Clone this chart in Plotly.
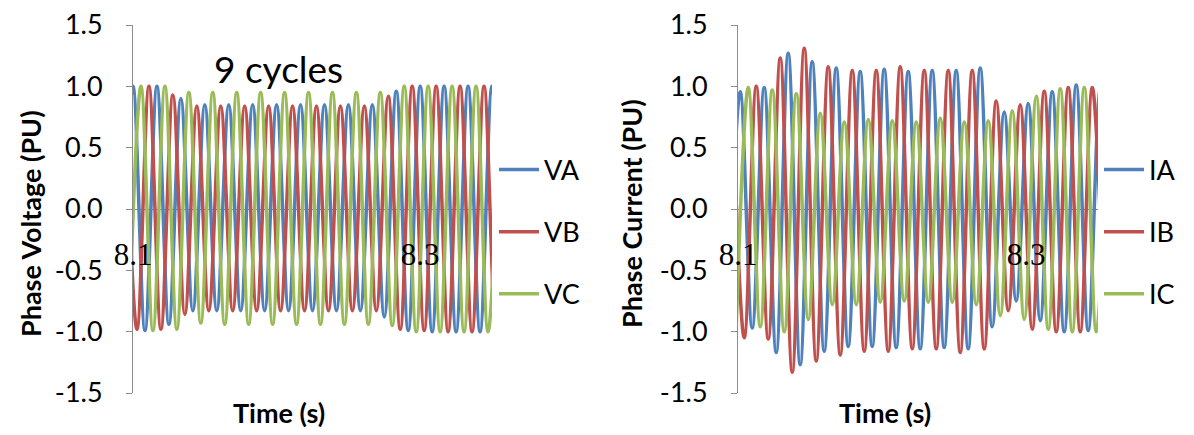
import plotly.graph_objects as go

# ---------------- data ----------------
# Successive extrema (peak / trough) of each 60 Hz waveform, one every half cycle.
HALF_CYCLE = 1 / 120  # s between successive extrema

# Phase voltages (PU)
va_t0 = 8.09167
va_ext = [-1.0, 1.0, -0.99, 1.0, -0.94, 0.90, -0.83, 0.85, -0.83, 0.85, -0.83, 0.85,
          -0.83, 0.85, -0.83, 0.85, -0.83, 0.85, -0.83, 0.85, -0.83, 0.85, -0.88, 0.96,
          -0.99, 1.0, -1.0, 1.0, -1.0, 1.0, -1.0, 1.0, -1.0]
vb_t0 = 8.09444
vb_ext = [1.0, -0.98, 1.0, -0.98, 0.93, -0.86, 0.84, -0.83, 0.84, -0.83, 0.84, -0.83,
          0.84, -0.83, 0.84, -0.83, 0.84, -0.83, 0.84, -0.83, 0.84, -0.83, 0.92, -0.98,
          1.0, -0.99, 1.0, -1.0, 1.0, -1.0, 1.0, -1.0, 1.0]
vc_t0 = 8.09722
vc_ext = [-1.0, 1.0, -0.99, 1.0, -0.98, 0.95, -0.93, 0.95, -0.94, 0.95, -0.94, 0.95,
          -0.94, 0.95, -0.94, 0.95, -0.94, 0.95, -0.94, 0.95, -0.94, 0.95, -0.95, 1.0,
          -1.0, 1.0, -1.0, 1.0, -1.0, 1.0, -1.0, 1.0]

# Phase currents (PU)
ia_t0 = 8.0932
ia_ext = [-0.97, 0.955, -0.97, 0.99, -1.17, 1.27, -1.27, 1.20, -1.16, 1.15, -1.12, 1.12,
          -1.12, 1.14, -1.13, 1.12, -1.14, 1.13, -1.13, 1.13, -1.14, 1.15, -0.96, 0.79,
          -0.75, 0.86, -0.91, 0.955, -1.0, 1.01, -0.99, 0.97, -0.98]
ib_t0 = 8.0960
ib_ext = [1.0, -1.05, 1.0, -1.06, 1.23, -1.33, 1.31, -1.24, 1.16, -1.19, 1.13, -1.16,
          1.13, -1.16, 1.16, -1.14, 1.13, -1.14, 1.13, -1.17, 1.13, -1.14, 0.88, -0.83,
          0.85, -0.98, 0.96, -1.0, 0.99, -1.0, 0.99, -1.0]
ic_t0 = 8.0988
ic_ext = [-0.96, 0.99, -0.96, 0.97, -1.0, 0.94, -0.90, 0.78, -0.78, 0.71, -0.78, 0.73,
          -0.76, 0.72, -0.75, 0.71, -0.76, 0.74, -0.76, 0.71, -0.78, 0.72, -0.87, 0.80,
          -0.90, 0.92, -0.98, 0.98, -1.0, 0.99, -1.0, 0.99]

x_tick_vals = [8.1, 8.3]
x_tick_text = ["8.1", "8.3"]
y_tick_vals = [-1.5, -1.0, -0.5, 0.0, 0.5, 1.0, 1.5]
y_tick_text = ["-1.5", "-1.0", "-0.5", "0.0", "0.5", "1.0", "1.5"]

# ---------------- styling ----------------
BLUE, RED, GREEN = "#4F81BD", "#C0504D", "#9BBB59"
AXIS_GREY = "#8C8C8C"
FONT = "Lato"


def times(t0, ext):
    return [t0 + k * HALF_CYCLE for k in range(len(ext))]


fig = go.Figure()

series = [
    ("VA", va_t0, va_ext, BLUE, "x", "y", "legend"),
    ("VB", vb_t0, vb_ext, RED, "x", "y", "legend"),
    ("VC", vc_t0, vc_ext, GREEN, "x", "y", "legend"),
    ("IA", ia_t0, ia_ext, BLUE, "x2", "y2", "legend2"),
    ("IB", ib_t0, ib_ext, RED, "x2", "y2", "legend2"),
    ("IC", ic_t0, ic_ext, GREEN, "x2", "y2", "legend2"),
]
for name, t0, ext, col, xa, ya, leg in series:
    fig.add_trace(go.Scatter(
        x=times(t0, ext), y=ext, name=name, mode="lines",
        line=dict(color=col, width=3.5, shape="spline", smoothing=1.0),
        xaxis=xa, yaxis=ya, legend=leg, legendgroup=name,
    ))

W, H = 1194, 435
LEFT_X = (133 / W, 492 / W)
RIGHT_X = (738 / W, 1098 / W)
Y_DOM = ((H - 393) / H, (H - 25) / H)
XAX_POS = (H - 233) / H


def xaxis_cfg(dom):
    return dict(domain=list(dom), range=[8.1, 8.35], anchor="free", position=XAX_POS,
                showline=False, showgrid=False, zeroline=False, ticks="",
                tickvals=x_tick_vals, ticktext=x_tick_text, automargin=False,
                tickfont=dict(family="Liberation Serif", size=31, color="black"))


def yaxis_cfg(anchor):
    return dict(domain=list(Y_DOM), range=[-1.5, 1.5], anchor=anchor, automargin=False,
                showline=True, linecolor=AXIS_GREY, linewidth=1,
                ticks="outside", ticklen=6, tickcolor=AXIS_GREY, tickwidth=1,
                showgrid=False, zeroline=True, zerolinecolor=AXIS_GREY, zerolinewidth=1,
                tickvals=y_tick_vals, ticktext=y_tick_text, ticklabelstandoff=18,
                tickfont=dict(family=FONT, size=27, color="black"))


def legend_cfg(x_px):
    return dict(x=x_px / W, y=(H - 232) / H, xanchor="left", yanchor="middle",
                bgcolor="rgba(0,0,0,0)", borderwidth=0, traceorder="grouped",
                tracegroupgap=24, itemwidth=40,
                font=dict(family=FONT, size=27, color="black"))


fig.update_layout(
    width=W, height=H, margin=dict(l=0, r=0, t=0, b=0, autoexpand=False),
    paper_bgcolor="white", plot_bgcolor="white",
    font=dict(family=FONT, size=27, color="black"),
    xaxis=xaxis_cfg(LEFT_X), yaxis=yaxis_cfg("x"),
    xaxis2=xaxis_cfg(RIGHT_X), yaxis2=yaxis_cfg("x2"),
    legend=legend_cfg(494),
    legend2=legend_cfg(1099),
    showlegend=True,
)

title_font = dict(family=FONT, size=27, color="black")
annotations = [
    dict(text="<b>Phase Voltage (PU)</b>", x=30 / W, y=(H - 224) / H, textangle=-90, font=title_font),
    dict(text="<b>Phase Current (PU)</b>", x=631 / W, y=(H - 214) / H, textangle=-90, font=title_font),
    dict(text="<b>Time (s)</b>", x=279 / W, y=(H - 412) / H, font=title_font),
    dict(text="<b>Time (s)</b>", x=885 / W, y=(H - 412) / H, font=title_font),
    dict(text="9 cycles", x=278 / W, y=(H - 68) / H, font=dict(family=FONT, size=37, color="black")),
]
for a in annotations:
    a.update(xref="paper", yref="paper", showarrow=False, xanchor="center", yanchor="middle")
fig.update_layout(annotations=annotations)

fig.write_html("out.html", config={"displayModeBar": False},
               post_script="document.body.style.margin='0';")
